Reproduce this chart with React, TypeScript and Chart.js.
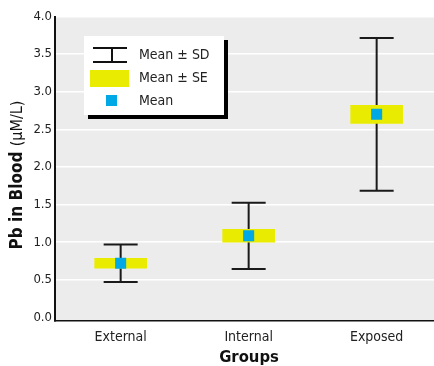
import React, { useEffect, useRef } from "react";
import { Chart, registerables } from "chart.js";

Chart.register(...registerables);

const categories = ["External", "Internal", "Exposed"];
const xPositions = [1, 2, 3];
const means = [0.72, 1.085, 2.7];
const sds = [0.25, 0.44, 1.015];
const ses = [0.065, 0.085, 0.12];
const yTickValues = [0, 0.5, 1.0, 1.5, 2.0, 2.5, 3.0, 3.5, 4.0];
const legendLabels = ["Mean \u00b1 SD", "Mean \u00b1 SE", "Mean"];

const FONT = '"Liberation Sans Narrow", "DejaVu Sans Condensed", "Liberation Sans", sans-serif';
const YELLOW = "#e9ec00";
const BLUE = "#00a8e6";

export default function App() {
  const ref = useRef<HTMLCanvasElement | null>(null);

  useEffect(() => {
    const canvas = ref.current;
    if (!canvas) return;

    const bgPlugin = {
      id: "bg",
      beforeDraw(chart: any) {
        const { ctx, chartArea } = chart;
        ctx.save();
        ctx.fillStyle = "#ececec";
        ctx.fillRect(chartArea.left, chartArea.top, chartArea.right - chartArea.left, chartArea.bottom - chartArea.top);
        ctx.restore();
      },
    };

    const sdPlugin = {
      id: "sdbars",
      beforeDatasetsDraw(chart: any) {
        const { ctx } = chart;
        const xs = chart.scales.x;
        const ys = chart.scales.y;
        ctx.save();
        ctx.strokeStyle = "#1a1a1a";
        ctx.lineWidth = 2;
        for (let i = 0; i < means.length; i++) {
          const x = xs.getPixelForValue(xPositions[i]);
          const yt = ys.getPixelForValue(means[i] + sds[i]);
          const yb = ys.getPixelForValue(means[i] - sds[i]);
          ctx.beginPath();
          ctx.moveTo(x, yt);
          ctx.lineTo(x, yb);
          ctx.moveTo(x - 17, yt);
          ctx.lineTo(x + 17, yt);
          ctx.moveTo(x - 17, yb);
          ctx.lineTo(x + 17, yb);
          ctx.stroke();
        }
        ctx.restore();
      },
    };

    const decorPlugin = {
      id: "decor",
      afterDraw(chart: any) {
        const { ctx } = chart;
        ctx.save();
        // legend
        ctx.fillStyle = "#000";
        ctx.fillRect(88, 40, 140, 79);
        ctx.fillStyle = "#fff";
        ctx.fillRect(84, 36, 140, 79);
        // SD icon
        ctx.strokeStyle = "#111";
        ctx.lineWidth = 2;
        ctx.beginPath();
        ctx.moveTo(93, 48);
        ctx.lineTo(127, 48);
        ctx.moveTo(93, 62);
        ctx.lineTo(127, 62);
        ctx.moveTo(112, 48);
        ctx.lineTo(112, 62);
        ctx.stroke();
        // SE icon
        ctx.fillStyle = YELLOW;
        ctx.fillRect(90, 70, 39, 17);
        // mean icon
        ctx.fillStyle = BLUE;
        ctx.fillRect(106, 95, 11, 11);
        ctx.fillStyle = "#222";
        ctx.font = `14px ${FONT}`;
        ctx.textBaseline = "middle";
        ctx.textAlign = "left";
        ctx.fillText(legendLabels[0], 139, 55);
        ctx.fillText(legendLabels[1], 139, 78);
        ctx.fillText(legendLabels[2], 139, 101);

        // x title
        ctx.fillStyle = "#111";
        ctx.font = `bold 16.5px ${FONT}`;
        ctx.textAlign = "center";
        ctx.fillText("Groups", 249, 358);

        // y title
        ctx.translate(18, 175);
        ctx.rotate(-Math.PI / 2);
        const p1 = "Pb in Blood ";
        const p2 = "(\u03bcM/L)";
        ctx.font = `bold 17px ${FONT}`;
        const w1 = ctx.measureText(p1).width;
        ctx.font = `16px ${FONT}`;
        const w2 = ctx.measureText(p2).width;
        const start = -(w1 + w2) / 2;
        ctx.textAlign = "left";
        ctx.font = `bold 17px ${FONT}`;
        ctx.fillText(p1, start, 0);
        ctx.font = `16px ${FONT}`;
        ctx.fillText(p2, start + w1, 0);
        ctx.restore();
      },
    };

    const chart = new Chart(canvas, {
      type: "scatter",
      data: {
        datasets: [
          {
            type: "scatter",
            label: "Mean",
            data: xPositions.map((x, i) => ({ x, y: means[i] })),
            pointStyle: "rect",
            pointRadius: 7.8,
            pointHoverRadius: 7.8,
            pointBackgroundColor: BLUE,
            pointBorderWidth: 0,
            order: 1,
          } as any,
          {
            type: "bar",
            label: "Mean \u00b1 SE",
            data: xPositions.map((x, i) => ({ x, y: [means[i] - ses[i], means[i] + ses[i]] })) as any,
            backgroundColor: YELLOW,
            borderWidth: 0,
            barThickness: 52,
            order: 2,
          },
        ],
      },
      options: {
        animation: false,
        responsive: false,
        layout: { autoPadding: false, padding: { top: 16.5, left: 0, right: 0, bottom: 0 } },
        plugins: { legend: { display: false }, tooltip: { enabled: false } },
        scales: {
          x: {
            type: "linear",
            min: 0.487,
            max: 3.448,
            offset: false,
            afterBuildTicks: (scale: any) => {
              scale.ticks = xPositions.map((v) => ({ value: v }));
            },
            afterFit: (scale: any) => {
              scale.height = 45.5;
            },
            grid: { display: false, drawTicks: false },
            border: { display: true, color: "#111", width: 1.5 },
            ticks: {
              padding: 8,
              color: "#222",
              font: { family: FONT, size: 14 },
              callback: (v: any) => categories[Math.round(v) - 1] ?? "",
              maxRotation: 0,
            },
          },
          y: {
            type: "linear",
            min: -0.04,
            max: 4.0,
            afterBuildTicks: (scale: any) => {
              scale.ticks = yTickValues.map((v) => ({ value: v }));
            },
            afterFit: (scale: any) => {
              scale.width = 55;
            },
            grid: {
              drawTicks: false,
              color: (c: any) => (c.tick && c.tick.value === 0 ? "rgba(0,0,0,0)" : "#ffffff"),
              lineWidth: 1.5,
            },
            border: { display: true, color: "#111", width: 2 },
            ticks: {
              padding: 3,
              color: "#222",
              font: { family: FONT, size: 13 },
              callback: (v: any) => Number(v).toFixed(1),
            },
          },
        },
      },
      plugins: [bgPlugin, sdPlugin, decorPlugin],
    });

    return () => chart.destroy();
  }, []);

  return (
    <div style={{ position: "fixed", left: 0, top: 0, width: 434, height: 366 }}>
      <canvas ref={ref} width={434} height={366} style={{ display: "block" }} />
    </div>
  );
}
